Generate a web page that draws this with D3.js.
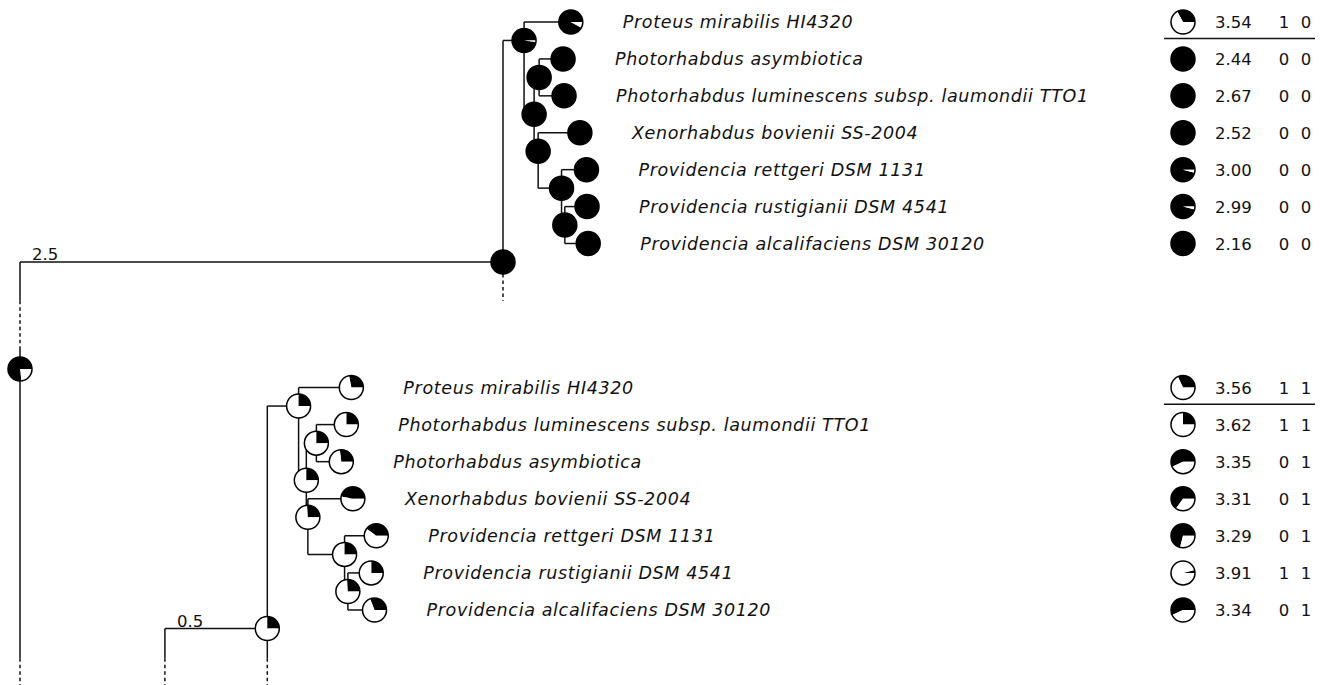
<!DOCTYPE html>
<html>
<head>
<meta charset="utf-8">
<script src="https://cdn.jsdelivr.net/npm/d3@7"></script>
<style>
  html, body { margin: 0; padding: 0; background: #fff; }
  svg { display: block; }
  text { font-family: 'DejaVu Sans', Verdana, sans-serif; font-size: 16.5px; fill: #111; }
  text.taxon { font-style: italic; font-size: 17.5px; letter-spacing: 0.65px; }
</style>
</head>
<body>
<svg id="chart" width="1324" height="685"></svg>
<script>
// ---- Taxa, in the order they are listed beside each tree ----
const topTaxa = [
  "Proteus mirabilis HI4320",
  "Photorhabdus asymbiotica",
  "Photorhabdus luminescens subsp. laumondii TTO1",
  "Xenorhabdus bovienii SS-2004",
  "Providencia rettgeri DSM 1131",
  "Providencia rustigianii DSM 4541",
  "Providencia alcalifaciens DSM 30120"
];
const bottomTaxa = [
  "Proteus mirabilis HI4320",
  "Photorhabdus luminescens subsp. laumondii TTO1",
  "Photorhabdus asymbiotica",
  "Xenorhabdus bovienii SS-2004",
  "Providencia rettgeri DSM 1131",
  "Providencia rustigianii DSM 4541",
  "Providencia alcalifaciens DSM 30120"
];

// ---- Upper tree: node ids, parents, branch lengths, share of state 1 (black) ----
const topIds     = ["root", "n1",   "proteus", "n2", "n3", "pasym", "plum", "n4", "xeno", "n5", "prett", "n6", "prust", "palc"];
const topParents = ["",     "root", "n1",      "n1", "n2", "n3",    "n3",   "n2", "n4",   "n4", "n5",    "n5", "n6",    "n6"];
const topLengths = [2.5,    0.109,  0.242,     0.052, 0.026, 0.124, 0.129,  0.021, 0.216, 0.121, 0.129,  0.017, 0.115,  0.121];
const topStates  = [1,      0.98,   0.92,      1,    1,    1,       1,      1,    1,      1,    1,       1,    1,       1];

// ---- Lower tree ----
const bottomIds     = ["root", "n1",   "proteus", "n2", "n3", "plum", "pasym", "n4", "xeno", "n5", "prett", "n6", "prust", "palc"];
const bottomParents = ["",     "root", "n1",      "n1", "n2", "n3",   "n3",    "n2", "n4",   "n4", "n5",    "n5", "n6",    "n6"];
const bottomLengths = [0.53,   0.162,  0.273,     0.040, 0.052, 0.155, 0.129,  0.008, 0.233, 0.190, 0.164, 0.017, 0.121,  0.138];
const bottomStates  = [0.25,   0.25,   0.28,      0.25, 0.25, 0.25,   0.27,    0.26, 0.47,   0.25, 0.40,    0.26, 0.25,    0.31];

// Depth of the ancestor the lower tree hangs from, and the state at the overall root
const bottomStemDepth = 0.75;
const rootState = 0.77;

// ---- Side tables ----
const topScores    = [3.54, 2.44, 2.67, 2.52, 3.00, 2.99, 2.16];
const topFlagsA    = [1, 0, 0, 0, 0, 0, 0];
const topFlagsB    = [0, 0, 0, 0, 0, 0, 0];
const topShares    = [0.33, 1, 1, 1, 0.96, 0.96, 1];
const bottomScores = [3.56, 3.62, 3.35, 3.31, 3.29, 3.91, 3.34];
const bottomFlagsA = [1, 1, 0, 0, 0, 1, 0];
const bottomFlagsB = [1, 1, 1, 1, 1, 1, 1];
const bottomShares = [0.32, 0.25, 0.57, 0.65, 0.71, 0.04, 0.57];

// ---- Layout ----
const W = 1324, H = 685;
const R = 12;
const x = d3.scaleLinear().domain([0, 3]).range([20, 599.6]);
const yTop = d3.scaleLinear().domain([0, 6]).range([22, 243.5]);
const yBot = d3.scaleLinear().domain([0, 6]).range([387.5, 610]);
const rootRow = 9.4;            // overall root, in upper-panel rows
const topBreak = [7.55, 8.8];   // elided stretch of the stem (upper-panel rows)
const bottomBreak = 7.3;        // where branches run off the bottom (lower-panel rows)
const labelGap = 52;
const table = { pie: 1183, score: 1215, flagA: 1284, flagB: 1306, ruleL: 1164, ruleR: 1315, ruleRow: 0.45 };
const DASH = "3.5,3";
const fmt1 = d3.format(".1f"), fmt2 = d3.format(".2f");

const svg = d3.select("#chart").attr("viewBox", `0 0 ${W} ${H}`);
svg.append("rect").attr("width", W).attr("height", H).attr("fill", "#fff");
const gLines = svg.append("g").attr("stroke", "#111").attr("stroke-width", 1.5).attr("fill", "none");
const gPies = svg.append("g");
const gText = svg.append("g");

function seg(x1, y1, x2, y2, dashed) {
  const l = gLines.append("line").attr("x1", x1).attr("y1", y1).attr("x2", x2).attr("y2", y2);
  if (dashed) l.attr("stroke-dasharray", DASH);
  return l;
}

const pie = d3.pie().sort(null).value(d => d)
  .startAngle(Math.PI / 2).endAngle(Math.PI / 2 - 2 * Math.PI);
const arc = d3.arc().innerRadius(0).outerRadius(R);

function drawPie(cx, cy, share) {
  const g = gPies.append("g").attr("transform", `translate(${cx},${cy})`);
  g.selectAll("path").data(pie([share, 1 - share])).join("path")
    .attr("d", arc).attr("fill", (d, i) => i === 0 ? "#000" : "#fff");
  g.append("circle").attr("r", R).attr("fill", "none").attr("stroke", "#000").attr("stroke-width", 1.5);
}

function buildTree(ids, parents, lengths, states, taxa, baseDepth) {
  const rows = ids.map((id, i) => ({ id, parent: parents[i] || null, len: lengths[i], state: states[i] }));
  const root = d3.stratify().id(d => d.id).parentId(d => d.parent)(rows);
  root.eachBefore(n => { n.dist = (n.parent ? n.parent.dist : baseDepth) + n.data.len; });
  root.leaves().forEach((l, i) => { l.row = i; l.name = taxa[i]; });
  // each internal node sits just below the last leaf of its first subtree
  root.each(n => { if (n.children) n.row = d3.max(n.children[0].leaves(), l => l.row) + 0.5; });
  return root;
}

function drawTree(root, y, stemDepth) {
  const nodes = root.descendants();
  nodes.forEach(n => {
    const px = n.parent ? x(n.parent.dist) : x(stemDepth);
    seg(px, y(n.row), x(n.dist), y(n.row));
  });
  nodes.filter(n => n.children).forEach(n => {
    const ys = n.children.map(c => y(c.row)).concat([y(n.row)]);
    seg(x(n.dist), d3.min(ys), x(n.dist), d3.max(ys));
  });
  nodes.forEach(n => drawPie(x(n.dist), y(n.row), n.data.state));
  root.leaves().forEach(l => {
    gText.append("text").attr("class", "taxon")
      .attr("x", x(l.dist) + labelGap).attr("y", y(l.row)).attr("dy", "0.37em")
      .text(l.name);
  });
  gText.append("text")
    .attr("x", x(stemDepth) + 12).attr("y", y(root.row) - 1.5)
    .text(fmt1(root.data.len));
}

function drawTable(y, scores, flagsA, flagsB, shares) {
  scores.forEach((s, i) => {
    drawPie(table.pie, y(i), shares[i]);
    gText.append("text").attr("x", table.score).attr("y", y(i)).attr("dy", "0.38em").text(fmt2(s));
    gText.append("text").attr("x", table.flagA).attr("y", y(i)).attr("dy", "0.38em")
      .attr("text-anchor", "middle").text(flagsA[i]);
    gText.append("text").attr("x", table.flagB).attr("y", y(i)).attr("dy", "0.38em")
      .attr("text-anchor", "middle").text(flagsB[i]);
  });
  seg(table.ruleL, y(table.ruleRow), table.ruleR, y(table.ruleRow));
}

const topTree = buildTree(topIds, topParents, topLengths, topStates, topTaxa, 0);
const bottomTree = buildTree(bottomIds, bottomParents, bottomLengths, bottomStates, bottomTaxa, bottomStemDepth);

// stem of the overall root, with its elided stretch
const x0 = x(0);
seg(x0, yTop(topTree.row), x0, yTop(topBreak[0]));
seg(x0, yTop(topBreak[0]), x0, yTop(topBreak[1]), true);
seg(x0, yTop(topBreak[1]), x0, yTop(rootRow));
seg(x0, yTop(rootRow), x0, yBot(bottomBreak));
seg(x0, yBot(bottomBreak), x0, H, true);

// continuation below the upper tree's root
seg(x(topTree.dist), yTop(topTree.row) + R, x(topTree.dist), yTop(topBreak[0]), true);

// continuation below the lower tree's root and its ancestor
[x(bottomTree.dist), x(bottomStemDepth)].forEach((xx, i) => {
  seg(xx, yBot(bottomTree.row) + (i === 0 ? R : 0), xx, yBot(bottomBreak));
  seg(xx, yBot(bottomBreak), xx, H, true);
});

drawTree(topTree, yTop, 0);
drawTree(bottomTree, yBot, bottomStemDepth);
drawPie(x0, yTop(rootRow), rootState);

drawTable(yTop, topScores, topFlagsA, topFlagsB, topShares);
drawTable(yBot, bottomScores, bottomFlagsA, bottomFlagsB, bottomShares);
</script>
</body>
</html>
